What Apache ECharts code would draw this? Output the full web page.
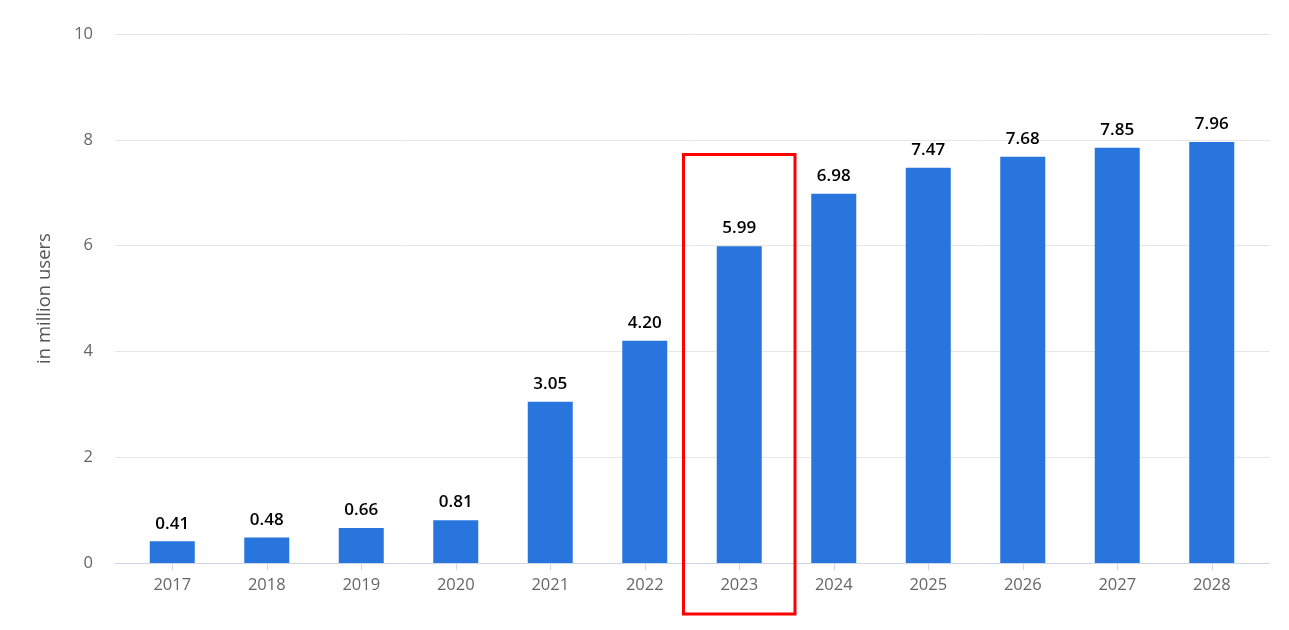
<!DOCTYPE html>
<html>
<head>
<meta charset="utf-8">
<script src="https://cdn.jsdelivr.net/npm/echarts@6/dist/echarts.min.js"></script>
<style>html,body{margin:0;padding:0;background:#fff;}#c{width:1289px;height:630px;}</style>
</head>
<body>
<div id="c"></div>
<script>
const categories = ['2017','2018','2019','2020','2021','2022','2023','2024','2025','2026','2027','2028'];
const values = [0.41,0.48,0.66,0.81,3.05,4.20,5.99,6.98,7.47,7.68,7.85,7.96];
const yTicks = [0,2,4,6,8,10];
const highlightCategory = '2023';
const yAxisName = 'in million users';

const FONT = '"Open Sans", sans-serif';
const chart = echarts.init(document.getElementById('c'), null, {renderer:'canvas'});
const option = {
  animation: false,
  grid: [
    {left:115, right:19, top:34, bottom:67},
    {left:125, right:30, top:34, bottom:67}
  ],
  xAxis: [
    {type:'value', gridIndex:0, min:0, max:1, axisLine:{show:true, onZero:false, lineStyle:{color:'#ccd6eb'}}, axisTick:{show:false}, axisLabel:{show:false}, splitLine:{show:false}},
    {type:'category', gridIndex:1, data:categories, axisLine:{show:false}, axisTick:{show:true, alignWithLabel:true, length:7, lineStyle:{color:'#ccd6eb'}},
     axisLabel:{color:'#666', fontSize:16.5, fontFamily:FONT, margin:14}}
  ],
  yAxis: [
    {type:'value', gridIndex:0, min:yTicks[0], max:yTicks[yTicks.length-1], interval:2,
     name:yAxisName, nameLocation:'middle', nameGap:61, nameTextStyle:{color:'#555', fontSize:18.5, fontFamily:FONT},
     axisLine:{show:false}, axisTick:{show:false},
     axisLabel:{color:'#666', fontSize:16.5, fontFamily:FONT, margin:22},
     splitLine:{lineStyle:{color:'#e6e6e6'}}},
    {type:'value', gridIndex:1, min:0, max:10, show:false, splitLine:{show:false}}
  ],
  series: [{
    type:'bar', xAxisIndex:1, yAxisIndex:1, data:values, barWidth:45,
    itemStyle:{color:'#2876dd'},
    label:{show:true, position:'top', distance:9, color:'#000', fontSize:17, fontWeight:600, fontFamily:FONT,
      formatter:p=>p.value.toFixed(2)}
  }]
};
chart.setOption(option);

// Highlight rectangle around the highlighted category
const idx = categories.indexOf(highlightCategory);
const c = chart.convertToPixel({xAxisIndex:1, yAxisIndex:1}, [idx, 7.72]);
const base = chart.convertToPixel({xAxisIndex:1, yAxisIndex:1}, [idx, 0]);
const band = chart.getModel().getComponent('xAxis',1).axis.getBandWidth();
const w = band*1.18;
chart.setOption({graphic:[{type:'rect', shape:{x:c[0]-w/2, y:c[1], width:w, height:(base[1]+51)-c[1]},
  style:{fill:'none', stroke:'#ff0000', lineWidth:3}, z:100}]});
</script>
</body>
</html>
